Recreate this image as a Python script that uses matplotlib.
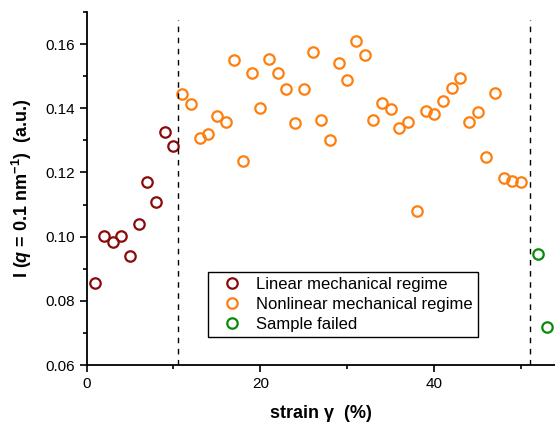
import matplotlib
matplotlib.use('Agg')
import matplotlib.pyplot as plt
from matplotlib import ticker

plt.rcParams['font.family'] = ['Liberation Sans', 'DejaVu Sans']
plt.rcParams['mathtext.fontset'] = 'custom'
plt.rcParams['mathtext.rm'] = 'Liberation Sans:bold'
plt.rcParams['mathtext.it'] = 'Liberation Sans:italic:bold'
plt.rcParams['mathtext.bf'] = 'Liberation Sans:bold'

# linear mechanical regime
lin_x = [1, 2, 3, 4, 5, 6, 7, 8, 9, 10]
lin_y = [0.0855, 0.1002, 0.0983, 0.1002, 0.0940, 0.1039, 0.1170, 0.1108, 0.1326, 0.1282]

# nonlinear mechanical regime
nonlin_x = list(range(11, 51))
nonlin_y = [0.1444, 0.1413, 0.1307, 0.1320, 0.1376, 0.1357, 0.1550, 0.1236, 0.1510, 0.1401,
            0.1553, 0.1510, 0.1460, 0.1354, 0.1460, 0.1575, 0.1363, 0.1301, 0.1541, 0.1488,
            0.1609, 0.1566, 0.1363, 0.1416, 0.1398, 0.1338, 0.1357, 0.1080, 0.1391, 0.1382,
            0.1422, 0.1463, 0.1494, 0.1357, 0.1388, 0.1248, 0.1447, 0.1183, 0.1173, 0.1170]

# sample failed
fail_x = [52, 53]
fail_y = [0.0946, 0.0718]

regime_bounds = [10.5, 51]

fig = plt.figure(figsize=(5.55, 4.26), dpi=100)
ax = fig.add_axes([0.156, 0.143, 0.844, 0.829])

ms = 7.5
mew = 1.6
ax.plot(lin_x, lin_y, 'o', mfc='none', mec='#8b0a0a', ms=ms, mew=mew, label='Linear mechanical regime')
ax.plot(nonlin_x, nonlin_y, 'o', mfc='none', mec='#ff7f0e', ms=ms, mew=mew, label='Nonlinear mechanical regime')
ax.plot(fail_x, fail_y, 'o', mfc='none', mec='#0a8a0a', ms=ms, mew=mew, label='Sample failed')

for xb in regime_bounds:
    ax.plot([xb, xb], [0.06, 0.1675], color='black', linestyle=(0, (4, 4)), linewidth=1)

ax.set_xlim(0, 53.9)
ax.set_ylim(0.06, 0.17)
ax.spines['right'].set_visible(False)
ax.spines['top'].set_visible(False)
ax.spines['left'].set_linewidth(1.3)
ax.spines['bottom'].set_linewidth(1.3)

ax.xaxis.set_major_locator(ticker.MultipleLocator(20))
ax.xaxis.set_minor_locator(ticker.MultipleLocator(10))
ax.yaxis.set_major_locator(ticker.MultipleLocator(0.02))
ax.yaxis.set_minor_locator(ticker.MultipleLocator(0.01))
ax.yaxis.set_major_formatter(ticker.FormatStrFormatter('%.2f'))
ax.tick_params(which='major', direction='out', length=5, width=1.2, labelsize=11)
ax.tick_params(which='minor', direction='out', length=3, width=1.2)

ax.set_xlabel('strain \u03b3  (%)', fontsize=13, fontweight='bold', labelpad=10)
ax.set_ylabel(r'I ($q$ = 0.1 nm$^{-1}$)  (a.u.)', fontsize=13, fontweight='bold', labelpad=8)

leg = ax.legend(loc='upper left', bbox_to_anchor=(0.259, 0.263), fontsize=12,
                fancybox=False, framealpha=1, edgecolor='black', handlelength=2.3,
                handletextpad=0.3, borderpad=0.3, labelspacing=0.3, borderaxespad=0)
leg.get_frame().set_linewidth(1.0)

fig.savefig('out.png', dpi=100)
